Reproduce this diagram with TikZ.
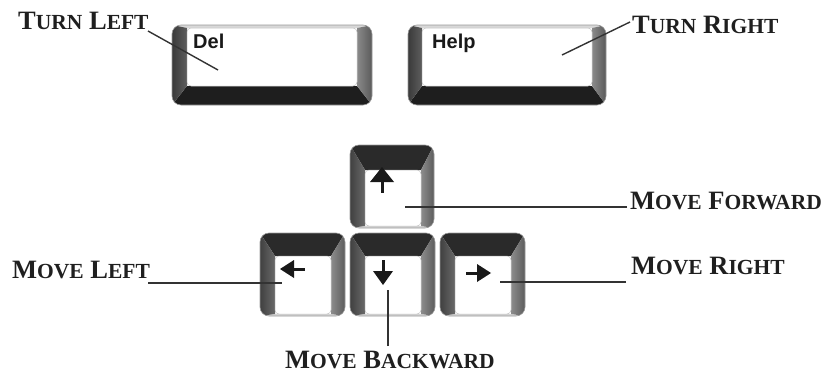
\documentclass[tikz,border=0pt]{standalone}
\usepackage{fontspec}
\setmainfont{Liberation Serif}
\newfontfamily\keyfont{Liberation Sans}
\newcommand\smc[1]{{\fontsize{21.5}{21.5}\selectfont #1}}
\newcommand\delcolors{%
  \definecolor{capT}{HTML}{D8D8D8}\definecolor{capB}{HTML}{1E1E1E}%
  \definecolor{capLa}{HTML}{3A3A3A}\definecolor{capLb}{HTML}{5E5E5E}%
  \definecolor{capRa}{HTML}{8A8A8A}\definecolor{capRb}{HTML}{5A5A5A}}
\newcommand\arrcolors{%
  \definecolor{capT}{HTML}{2A2A2A}\definecolor{capB}{HTML}{D4D4D4}%
  \definecolor{capLa}{HTML}{404040}\definecolor{capLb}{HTML}{6A6A6A}%
  \definecolor{capRa}{HTML}{8C8C8C}\definecolor{capRb}{HTML}{5C5C5C}}
\newcommand\keycap[8]{%
  \begin{scope}
    \clip[rounded corners=9pt] (#1,#2) rectangle (#3,#4);
    \fill[capT] (#1,#2) -- (#3,#2) -- (#7,#6) -- (#5,#6) -- cycle;
    \fill[capB] (#1,#4) -- (#3,#4) -- (#7,#8) -- (#5,#8) -- cycle;
    \shade[left color=capLa, right color=capLb] (#1,#2) -- (#5,#6) -- (#5,#8) -- (#1,#4) -- cycle;
    \shade[left color=capRa, right color=capRb] (#3,#2) -- (#7,#6) -- (#7,#8) -- (#3,#4) -- cycle;
  \end{scope}
  \draw[black!40, line width=0.6pt, rounded corners=9pt] (#1,#2) rectangle (#3,#4);
  \fill[white, draw=black!25, line width=0.5pt, rounded corners=4pt] (#5,#6) rectangle (#7,#8);
}
\tikzset{
  lbl/.style={font=\fontsize{26.5}{26.5}\selectfont\bfseries, anchor=base west, inner sep=0pt, text=black!88},
  leader/.style={line width=1.4pt, draw=black!80},
  keytext/.style={font=\keyfont\bfseries\fontsize{20}{20}\selectfont, anchor=base west, inner sep=0pt, text=black!90},
  glyph/.style={fill=black!90},
  stem/.style={line width=3pt, draw=black!90}
}
\begin{document}
\begin{tikzpicture}[x=1pt,y=-1pt]
\useasboundingbox (0,0) rectangle (824,380);
% keys
\delcolors
\keycap{172}{25}{372}{105}{187}{28}{357}{86}
\keycap{408}{25}{606}{105}{422}{28}{592}{86}
\arrcolors
\keycap{350}{145}{434}{228}{365}{170}{421}{226}
\keycap{260}{233}{345}{316}{275}{256}{331}{314}
\keycap{350}{233}{435}{316}{365}{256}{421}{314}
\keycap{440}{233}{525}{316}{455}{256}{511}{314}
% key legends
\node[keytext] (del) at (193,48) {Del};
\node[keytext] (help) at (432,48) {Help};
% arrows on keys
\fill[glyph] (370,182) -- (394,182) -- (382,167) -- cycle;
\draw[stem] (382,180) -- (382,193);
\fill[glyph] (280,269) -- (294,260) -- (294,278) -- cycle;
\draw[stem] (292,269) -- (305,269);
\fill[glyph] (373,271) -- (393,271) -- (383,285) -- cycle;
\draw[stem] (383,260) -- (383,273);
\fill[glyph] (491,273) -- (477,264) -- (477,282) -- cycle;
\draw[stem] (466,273) -- (479,273);
% labels
\node[lbl] (tl) at (18,29) {T\smc{URN} L\smc{EFT}};
\node[lbl] (tr) at (632,33) {T\smc{URN} R\smc{IGHT}};
\node[lbl] (mf) at (630,209) {M\smc{OVE} F\smc{ORWARD}};
\node[lbl] (ml) at (12,278) {M\smc{OVE} L\smc{EFT}};
\node[lbl] (mr) at (631,274) {M\smc{OVE} R\smc{IGHT}};
\node[lbl] (mb) at (285,368) {M\smc{OVE} B\smc{ACKWARD}};
% leader end points on keys
\coordinate (ktl) at (218,70);
\coordinate (ktr) at (562,55);
\coordinate (kmf) at (405,207);
\coordinate (kml) at (282,283);
\coordinate (kmr) at (500,282);
\coordinate (kmb) at (388,290);
\coordinate (tlx) at (148,31);
\coordinate (trx) at (630,22);
\coordinate (mfx) at (627,207);
\coordinate (mlx) at (148,283);
\coordinate (mrx) at (626,282);
\coordinate (mbx) at (388,346);
\draw[leader] (tlx) -- (ktl);
\draw[leader] (trx) -- (ktr);
\draw[leader] (mfx) -- (kmf);
\draw[leader] (mlx) -- (kml);
\draw[leader] (mrx) -- (kmr);
\draw[leader] (mbx) -- (kmb);
\end{tikzpicture}
\end{document}
